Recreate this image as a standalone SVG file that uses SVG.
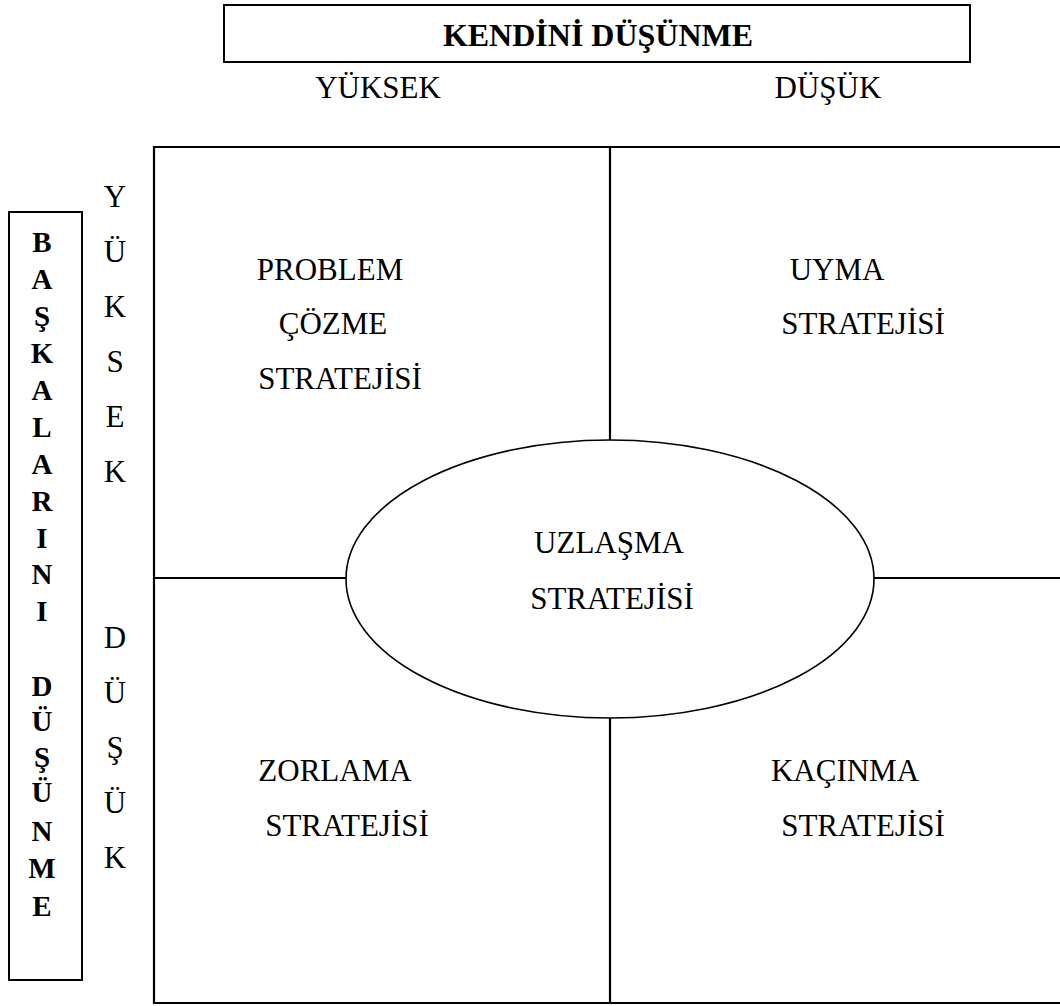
<svg xmlns="http://www.w3.org/2000/svg" width="1060" height="1006" viewBox="0 0 1060 1006">
  <style>
    .t { font-family: "Liberation Serif", "Times New Roman", serif; font-size: 31px; fill: #000; text-anchor: middle; }
    .b { font-family: "Liberation Serif", "Times New Roman", serif; font-size: 32px; font-weight: bold; fill: #000; text-anchor: middle; }
    .v { font-family: "Liberation Serif", "Times New Roman", serif; font-size: 29px; font-weight: bold; fill: #000; text-anchor: middle; }
    .frame { fill: none; stroke: #000; stroke-width: 2; }
    .line { stroke: #000; stroke-width: 2.2; fill: none; }
  </style>
  <rect width="1060" height="1006" fill="#fff"/>

  <!-- top axis title -->
  <g id="kendini-dusunme">
    <rect class="frame" x="224" y="5" width="746" height="57"/>
    <text class="b" x="598" y="46">KENDİNİ DÜŞÜNME</text>
  </g>
  <g id="top-yuksek"><text class="t" x="378" y="98">YÜKSEK</text></g>
  <g id="top-dusuk"><text class="t" x="828" y="98">DÜŞÜK</text></g>

  <!-- left axis title, stacked letters -->
  <g id="baskalarini-dusunme">
    <rect class="frame" x="9" y="212" width="73" height="768"/>
    <text class="v" x="42" y="252">B</text>
    <text class="v" x="42" y="289">A</text>
    <text class="v" x="42" y="326">Ş</text>
    <text class="v" x="42" y="363">K</text>
    <text class="v" x="42" y="400">A</text>
    <text class="v" x="42" y="437">L</text>
    <text class="v" x="42" y="474">A</text>
    <text class="v" x="42" y="511">R</text>
    <text class="v" x="42" y="548">I</text>
    <text class="v" x="42" y="584">N</text>
    <text class="v" x="42" y="621">I</text>
    <text class="v" x="42" y="696">D</text>
    <text class="v" x="42" y="731">Ü</text>
    <text class="v" x="42" y="767">Ş</text>
    <text class="v" x="42" y="802">Ü</text>
    <text class="v" x="42" y="841">N</text>
    <text class="v" x="42" y="878">M</text>
    <text class="v" x="42" y="916">E</text>
  </g>

  <!-- left axis levels -->
  <g id="left-yuksek">
    <text class="t" x="115" y="207">Y</text>
    <text class="t" x="115" y="262">Ü</text>
    <text class="t" x="115" y="317">K</text>
    <text class="t" x="115" y="372">S</text>
    <text class="t" x="115" y="427">E</text>
    <text class="t" x="115" y="482">K</text>
  </g>
  <g id="left-dusuk">
    <text class="t" x="115" y="648">D</text>
    <text class="t" x="115" y="703">Ü</text>
    <text class="t" x="115" y="758">Ş</text>
    <text class="t" x="115" y="813">Ü</text>
    <text class="t" x="115" y="868">K</text>
  </g>

  <!-- grid -->
  <g id="connectors">
    <path class="line" d="M1062 147 H154 V1003 H1062"/>
    <path class="line" d="M610 147 V1003"/>
    <path class="line" d="M154 578 H1062"/>
  </g>

  <!-- quadrants -->
  <g id="problem-cozme">
    <text class="t" x="330" y="280">PROBLEM</text>
    <text class="t" x="333" y="334">ÇÖZME</text>
    <text class="t" x="340" y="389">STRATEJİSİ</text>
  </g>
  <g id="uyma">
    <text class="t" x="837" y="280">UYMA</text>
    <text class="t" x="863" y="334">STRATEJİSİ</text>
  </g>
  <g id="zorlama">
    <text class="t" x="335" y="781">ZORLAMA</text>
    <text class="t" x="347" y="836">STRATEJİSİ</text>
  </g>
  <g id="kacinma">
    <text class="t" x="845" y="781">KAÇINMA</text>
    <text class="t" x="863" y="836">STRATEJİSİ</text>
  </g>

  <!-- centre -->
  <g id="uzlasma">
    <ellipse cx="610" cy="579" rx="264" ry="139" fill="#fff" stroke="#000" stroke-width="1.6"/>
    <text class="t" x="609" y="553">UZLAŞMA</text>
    <text class="t" x="612" y="609">STRATEJİSİ</text>
  </g>
</svg>
